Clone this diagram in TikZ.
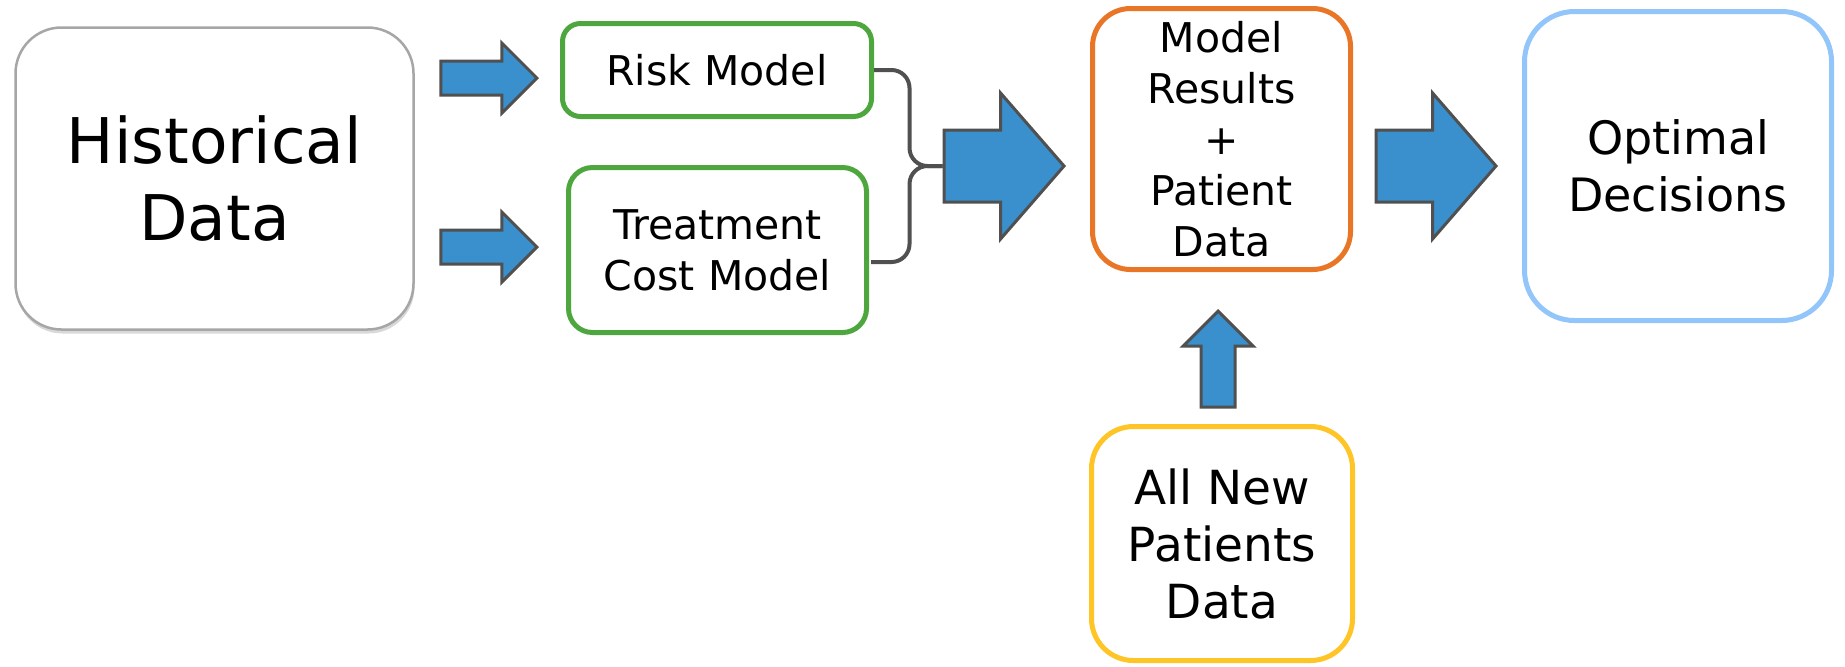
\documentclass[tikz,border=0pt]{standalone}
\usepackage{fontspec}
\setmainfont{DejaVu Sans}
\usetikzlibrary{shapes.arrows, shadows, calc}
\definecolor{histgray}{RGB}{166,166,166}
\definecolor{modelgreen}{RGB}{78,167,62}
\definecolor{resorange}{RGB}{232,118,38}
\definecolor{optblue}{RGB}{146,197,249}
\definecolor{newyellow}{RGB}{255,196,37}
\definecolor{arrblue}{RGB}{58,143,205}
\definecolor{arrline}{RGB}{80,80,80}
\tikzset{
  box/.style={
    rectangle, draw, fill=white, align=center,
    inner sep=0pt,
  },
  hist/.style={
    box, draw=histgray, line width=1.25pt,
    minimum width=199pt, minimum height=151pt, rounded corners=23pt,
    drop shadow={shadow xshift=0.5pt, shadow yshift=-2pt, opacity=0.3},
    font=\fontsize{31.5}{38.5}\selectfont
  },
  model/.style={
    box, draw=modelgreen, line width=2.5pt,
    font=\fontsize{20.5}{25.5}\selectfont
  },
  result/.style={
    box, draw=resorange, line width=2.5pt,
    minimum width=129pt, minimum height=130.5pt, rounded corners=19pt,
    font=\fontsize{20.5}{25.5}\selectfont
  },
  newdata/.style={
    box, draw=newyellow, line width=2.5pt,
    minimum width=130.5pt, minimum height=117pt, rounded corners=21pt,
    font=\fontsize{23.5}{28.5}\selectfont
  },
  decision/.style={
    box, draw=optblue, line width=2.5pt,
    minimum width=153.5pt, minimum height=154.5pt, rounded corners=25pt,
    font=\fontsize{23}{28.5}\selectfont
  },
  arr/.style={
    single arrow, draw=arrline, fill=arrblue, line width=1.5pt,
    inner xsep=0pt, inner ysep=7.75pt,
    single arrow head extend=9pt, single arrow tip angle=90,
    minimum height=48pt, anchor=tip
  },
  uparr/.style={
    arr, shape border rotate=90, inner xsep=7.75pt, inner ysep=0pt
  },
  bigarr/.style={
    arr, inner ysep=17.25pt, single arrow head extend=18.5pt,
    single arrow tip angle=98, minimum height=60pt
  },
  merge/.style={
    draw=arrline, line width=2pt, rounded corners=9pt
  }
}
\begin{document}
\begin{tikzpicture}[x=0.5pt, y=-0.5pt]
  \useasboundingbox (0,0) rectangle (1845,666);
  % boxes
  \node[hist] (hist) at (214.5,178.5) {Historical\\Data};
  \node[model, minimum width=154.5pt, minimum height=46.5pt, rounded corners=9pt] (risk) at (717,70) {Risk Model};
  \node[model, minimum width=149pt, minimum height=82.5pt, rounded corners=12pt] (cost) at (717.5,250) {Treatment\\Cost Model};
  \node[result] (res) at (1221.5,139) {Model\\Results\\+\\Patient\\Data};
  \node[newdata] (new) at (1222,543.5) {All New\\Patients\\Data};
  \node[decision] (opt) at (1678,166) {Optimal\\Decisions};
  % block arrows
  \node[arr] (arr-1) at (539,78) {};
  \node[arr] (arr-2) at (539,247) {};
  \node[uparr] (arr-up) at (1218,309) {};
  \node[bigarr] (arr-3) at (1066,166) {};
  \node[bigarr] (arr-4) at (1498,166) {};
  % brace joining the two models
  \coordinate (merge-tip) at (arr-3.tail);
  \draw[merge] (risk.east) -| ($(merge-tip)+(-33,0)$) -- (merge-tip);
  \draw[merge] ($(cost.east)+(2,12)$) -| ($(merge-tip)+(-33,0)$) -- (merge-tip);
\end{tikzpicture}
\end{document}
